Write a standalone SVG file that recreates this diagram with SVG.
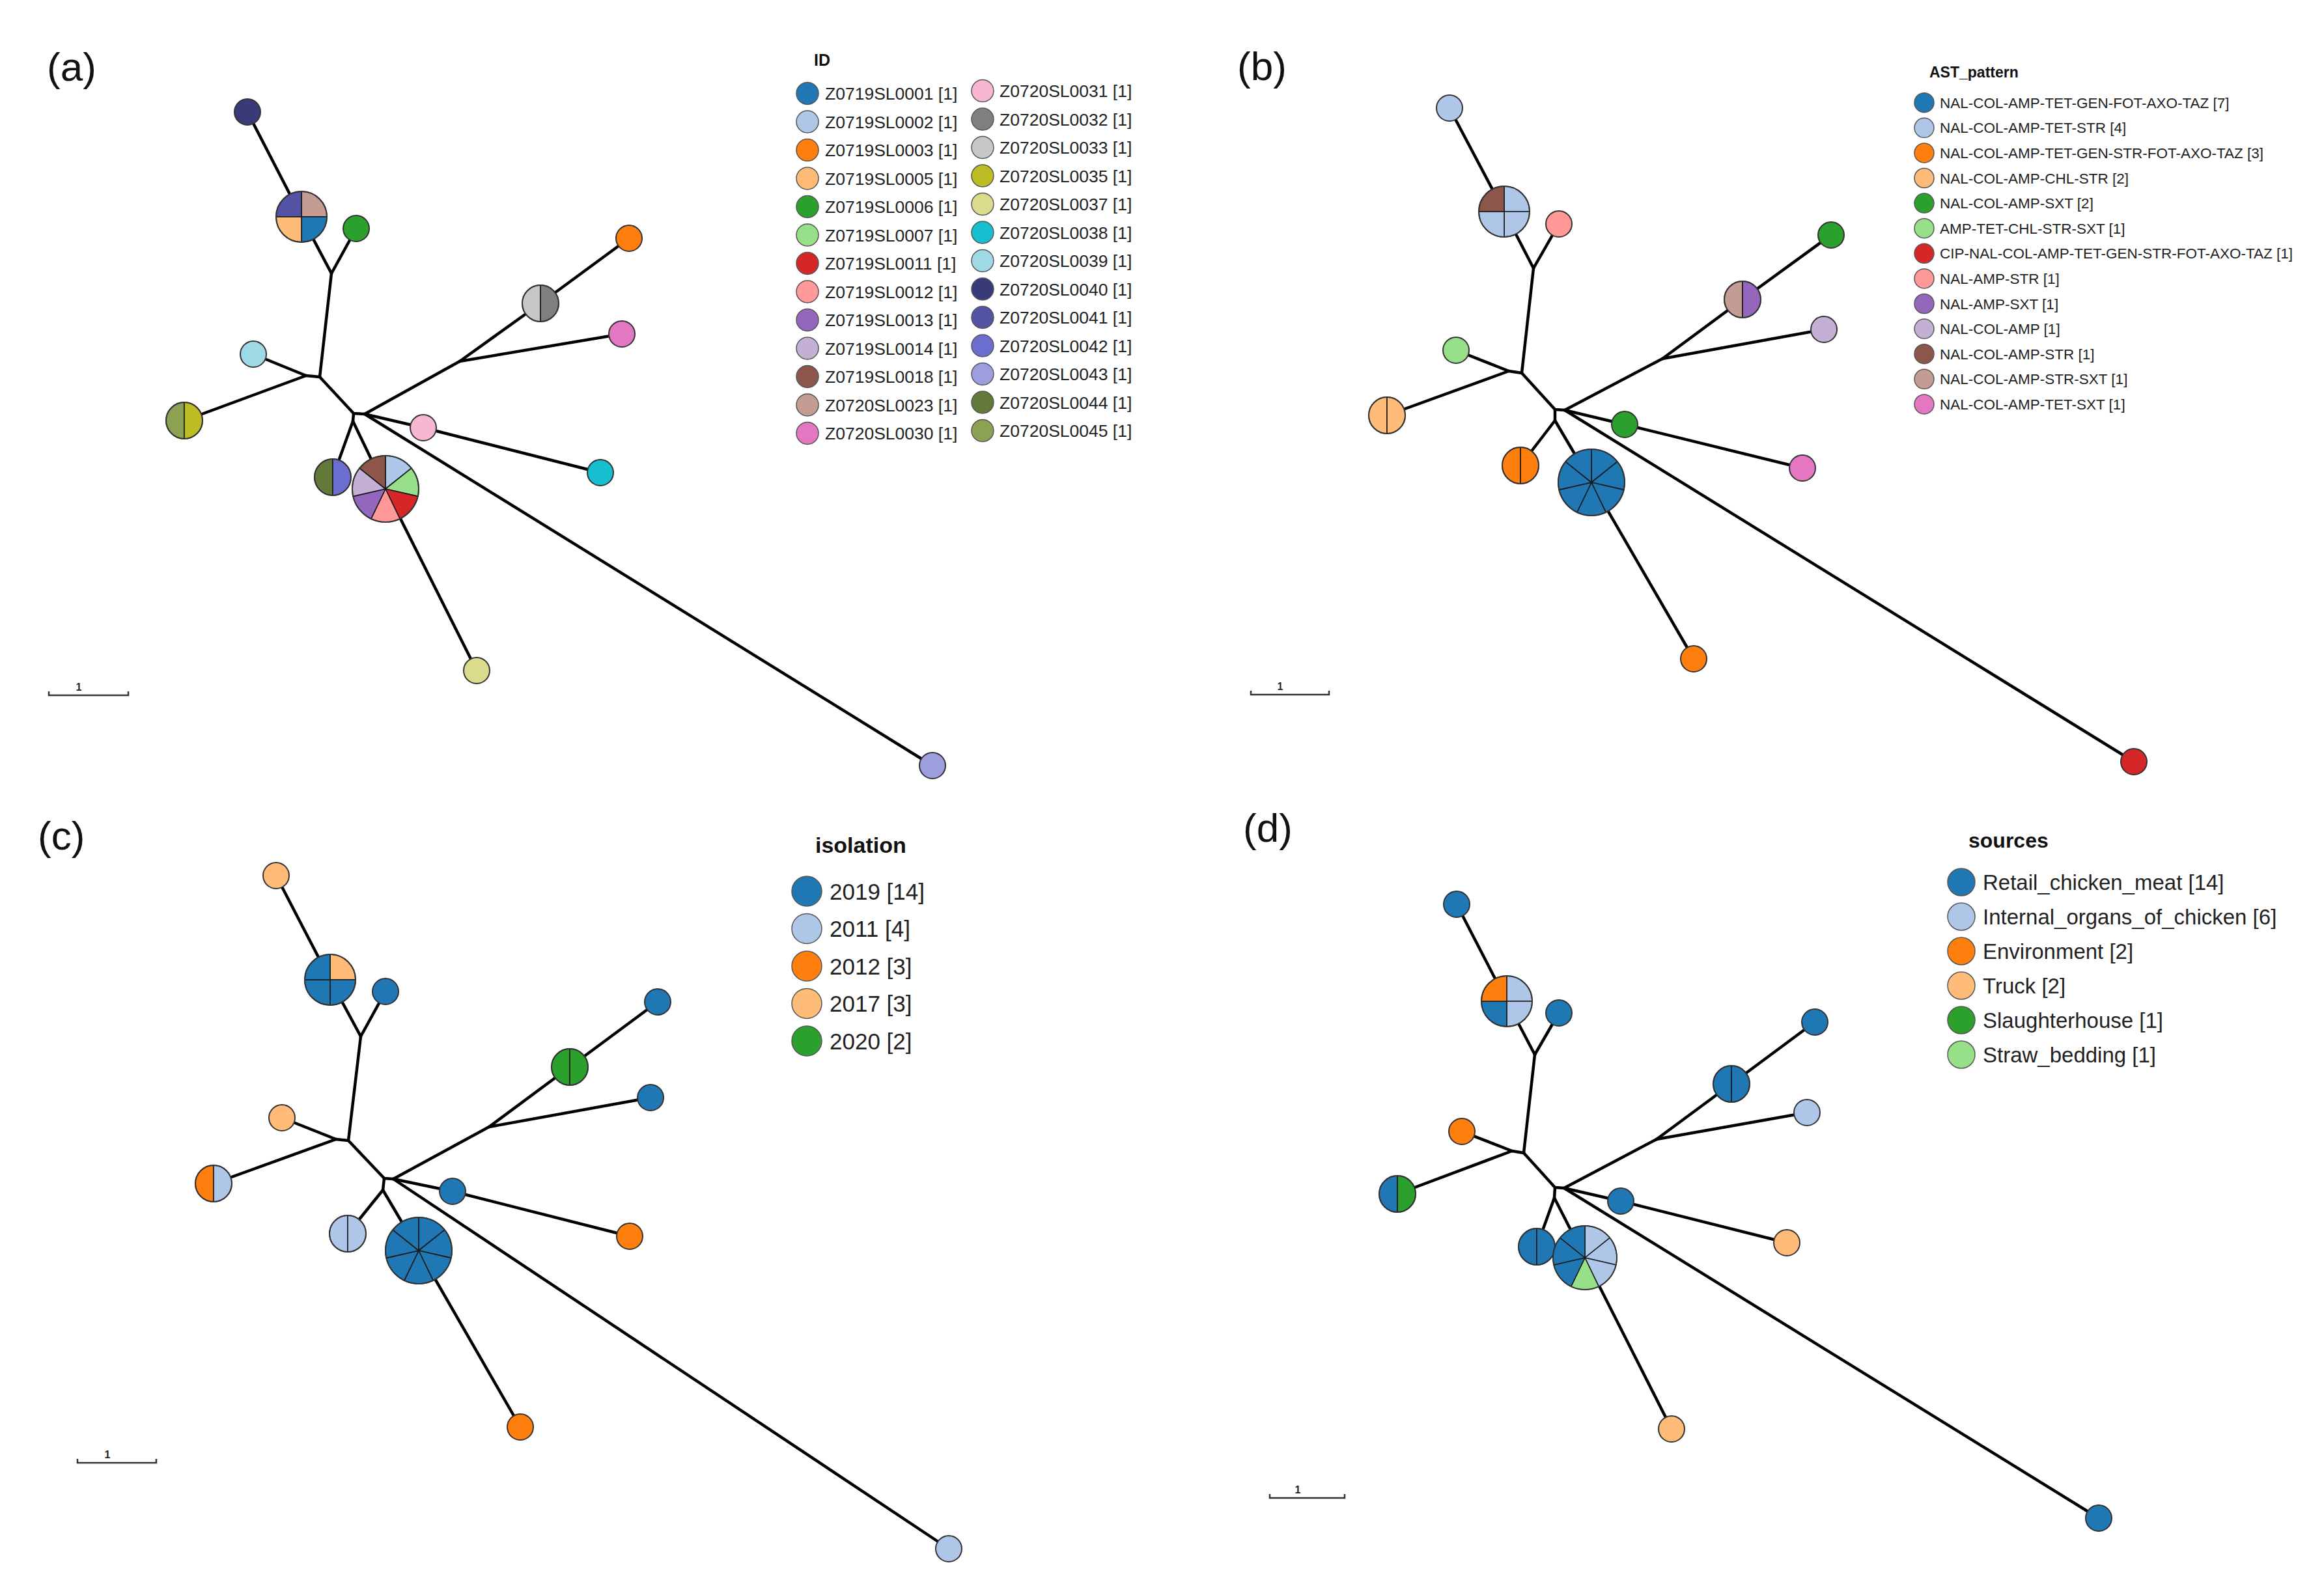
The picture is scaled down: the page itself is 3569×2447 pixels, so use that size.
<svg xmlns="http://www.w3.org/2000/svg" xmlns:xlink="http://www.w3.org/1999/xlink" width="3569" height="2447" viewBox="0 0 3569 2447">
<style>
.e{stroke:#000;stroke-width:4.5;fill:none;stroke-linecap:round;stroke-linejoin:round}
.n{stroke:#333;stroke-width:2}
.ol{fill:none;stroke:#333;stroke-width:2}
.s{stroke:#1a1a1a;stroke-width:1.6;stroke-linejoin:round}
.lc{stroke:#555;stroke-width:1.5}
.t{font-family:"Liberation Sans",Arial,sans-serif;fill:#222}
.pl{font-family:"Liberation Sans",Arial,sans-serif;font-size:62px;fill:#111}
.h{font-family:"Liberation Sans",Arial,sans-serif;font-weight:bold;fill:#111}
.sb{fill:none;stroke:#333;stroke-width:2.5}
.sbt{font-family:"Liberation Sans",Arial,sans-serif;font-size:16px;font-weight:bold;fill:#222;text-anchor:middle}
</style>
<defs>
<path id="q0" d="M0,0 L0,-39 A39,39 0 0 1 39,0 Z"/>
<path id="q1" d="M0,0 L39,0 A39,39 0 0 1 0,39 Z"/>
<path id="q2" d="M0,0 L0,39 A39,39 0 0 1 -39,0 Z"/>
<path id="q3" d="M0,0 L-39,0 A39,39 0 0 1 0,-39 Z"/>
<path id="hl" d="M0,-28 A28,28 0 0 0 0,28 Z"/>
<path id="hr" d="M0,-28 A28,28 0 0 1 0,28 Z"/>
<path id="s0" d="M0,0 L0,-51 A51,51 0 0 1 39.87,-31.8 Z"/>
<path id="s1" d="M0,0 L39.87,-31.8 A51,51 0 0 1 49.72,11.35 Z"/>
<path id="s2" d="M0,0 L49.72,11.35 A51,51 0 0 1 22.13,45.95 Z"/>
<path id="s3" d="M0,0 L22.13,45.95 A51,51 0 0 1 -22.13,45.95 Z"/>
<path id="s4" d="M0,0 L-22.13,45.95 A51,51 0 0 1 -49.72,11.35 Z"/>
<path id="s5" d="M0,0 L-49.72,11.35 A51,51 0 0 1 -39.87,-31.8 Z"/>
<path id="s6" d="M0,0 L-39.87,-31.8 A51,51 0 0 1 0,-51 Z"/>
</defs>
<rect width="3569" height="2447" fill="#fff"/>

<!-- Panel labels -->
<text class="pl" x="72" y="124">(a)</text>
<text class="pl" x="1900" y="123">(b)</text>
<text class="pl" x="58" y="1305">(c)</text>
<text class="pl" x="1909" y="1293">(d)</text>

<!-- Scale bars -->
<g id="scalebars">
<path class="sb" d="M75,1062 V1068 H197 V1062"/><text class="sbt" x="121" y="1061">1</text>
<path class="sb" d="M1921,1061 V1067 H2041 V1061"/><text class="sbt" x="1966" y="1060">1</text>
<path class="sb" d="M119,2241 V2247 H240 V2241"/><text class="sbt" x="165" y="2240">1</text>
<path class="sb" d="M1950,2295 V2301 H2065 V2295"/><text class="sbt" x="1993" y="2294">1</text>
</g>

<!-- Connectors -->
<g id="connectors" class="e">
<path d="M380,172 L463,333 L509,420"/>
<path d="M547,351 L509,420"/>
<path d="M509,420 L491,579 L470,577"/>
<path d="M470,577 L389,544"/>
<path d="M470,577 L283,646"/>
<path d="M491,579 L543,635 L560,636"/>
<path d="M560,636 L706,555"/>
<path d="M706,555 L830,466 L966,366"/>
<path d="M706,555 L955,513"/>
<path d="M560,636 L650,657 L922,726"/>
<path d="M560,636 L1432,1176"/>
<path d="M543,635 L542,647"/>
<path d="M542,647 L511,733"/>
<path d="M542,647 L592,751 L732,1030"/>

<path d="M2226,166 L2310,325 L2355,412"/>
<path d="M2394,344 L2355,412"/>
<path d="M2355,412 L2337,573 L2317,570"/>
<path d="M2317,570 L2236,538"/>
<path d="M2317,570 L2130,638"/>
<path d="M2337,573 L2388,629 L2403,630"/>
<path d="M2403,630 L2553,551"/>
<path d="M2553,551 L2676,460 L2812,361"/>
<path d="M2553,551 L2801,506"/>
<path d="M2403,630 L2495,652 L2768,719"/>
<path d="M2403,630 L3277,1170"/>
<path d="M2388,629 L2388,646"/>
<path d="M2388,646 L2335,715"/>
<path d="M2388,646 L2444,741 L2601,1012"/>

<path d="M424,1345 L507,1505 L554,1592"/>
<path d="M592,1523 L554,1592"/>
<path d="M554,1592 L535,1752 L516,1750"/>
<path d="M516,1750 L433,1717"/>
<path d="M516,1750 L328,1818"/>
<path d="M535,1752 L590,1810 L604,1811"/>
<path d="M604,1811 L751,1731"/>
<path d="M751,1731 L875,1639 L1010,1539"/>
<path d="M751,1731 L999,1686"/>
<path d="M604,1811 L695,1830 L967,1899"/>
<path d="M604,1811 L1457,2379"/>
<path d="M590,1810 L588,1828"/>
<path d="M588,1828 L534,1895"/>
<path d="M588,1828 L643,1921 L799,2192"/>

<path d="M2237,1389 L2314,1538 L2357,1620"/>
<path d="M2394,1556 L2357,1620"/>
<path d="M2357,1620 L2340,1771 L2322,1768"/>
<path d="M2322,1768 L2245,1738"/>
<path d="M2322,1768 L2146,1834"/>
<path d="M2340,1771 L2388,1824 L2402,1825"/>
<path d="M2402,1825 L2544,1750"/>
<path d="M2544,1750 L2659,1665 L2787,1570"/>
<path d="M2544,1750 L2775,1709"/>
<path d="M2402,1825 L2489,1845 L2744,1909"/>
<path d="M2402,1825 L3223,2332"/>
<path d="M2388,1824 L2387,1840"/>
<path d="M2387,1840 L2360,1915"/>
<path d="M2387,1840 L2434,1932 L2567,2195"/>
</g>

<!-- Panel (a) nodes -->
<g id="panel-a-nodes">
<g id="a-n40" transform="translate(380,172)"><circle class="n" r="20" fill="#393b79"/></g>
<g id="a-p4" transform="translate(463,333)"><use href="#q0" class="s" fill="#c49c94"/><use href="#q1" class="s" fill="#1f77b4"/><use href="#q2" class="s" fill="#ffbb78"/><use href="#q3" class="s" fill="#5254a3"/><circle class="ol" r="39"/></g>
<g id="a-n06" transform="translate(547,351)"><circle class="n" r="20" fill="#2ca02c"/></g>
<g id="a-n39" transform="translate(389,544)"><circle class="n" r="20" fill="#9edae5"/></g>
<g id="a-h45" transform="translate(283,646)"><use href="#hl" class="s" fill="#8ca252"/><use href="#hr" class="s" fill="#bcbd22"/><circle class="ol" r="28"/></g>
<g id="a-h33" transform="translate(830,466)"><use href="#hl" class="s" fill="#c7c7c7"/><use href="#hr" class="s" fill="#7f7f7f"/><circle class="ol" r="28"/></g>
<g id="a-n03" transform="translate(966,366)"><circle class="n" r="20" fill="#ff7f0e"/></g>
<g id="a-n30" transform="translate(955,513)"><circle class="n" r="20" fill="#e377c2"/></g>
<g id="a-n31" transform="translate(650,657)"><circle class="n" r="20" fill="#f7b6d2"/></g>
<g id="a-n38" transform="translate(922,726)"><circle class="n" r="20" fill="#17becf"/></g>
<g id="a-h44" transform="translate(511,733)"><use href="#hl" class="s" fill="#637939"/><use href="#hr" class="s" fill="#6b6ecf"/><circle class="ol" r="28"/></g>
<g id="a-p7" transform="translate(592,751)"><use href="#s0" class="s" fill="#aec7e8"/><use href="#s1" class="s" fill="#98df8a"/><use href="#s2" class="s" fill="#d62728"/><use href="#s3" class="s" fill="#ff9896"/><use href="#s4" class="s" fill="#9467bd"/><use href="#s5" class="s" fill="#c5b0d5"/><use href="#s6" class="s" fill="#8c564b"/><circle class="ol" r="51"/></g>
<g id="a-n37" transform="translate(732,1030)"><circle class="n" r="20" fill="#dbdb8d"/></g>
<g id="a-n43" transform="translate(1432,1176)"><circle class="n" r="20" fill="#9c9ede"/></g>
</g>

<!-- Panel (b) nodes -->
<g id="panel-b-nodes">
<g id="b-n1" transform="translate(2226,166)"><circle class="n" r="20" fill="#aec7e8"/></g>
<g id="b-p4" transform="translate(2310,325)"><use href="#q0" class="s" fill="#aec7e8"/><use href="#q1" class="s" fill="#aec7e8"/><use href="#q2" class="s" fill="#aec7e8"/><use href="#q3" class="s" fill="#8c564b"/><circle class="ol" r="39"/></g>
<g id="b-n2" transform="translate(2394,344)"><circle class="n" r="20" fill="#ff9896"/></g>
<g id="b-n3" transform="translate(2236,538)"><circle class="n" r="20" fill="#98df8a"/></g>
<g id="b-h1" transform="translate(2130,638)"><use href="#hl" class="s" fill="#ffbb78"/><use href="#hr" class="s" fill="#ffbb78"/><circle class="ol" r="28"/></g>
<g id="b-h2" transform="translate(2676,460)"><use href="#hl" class="s" fill="#c49c94"/><use href="#hr" class="s" fill="#9467bd"/><circle class="ol" r="28"/></g>
<g id="b-n4" transform="translate(2812,361)"><circle class="n" r="20" fill="#2ca02c"/></g>
<g id="b-n5" transform="translate(2801,506)"><circle class="n" r="20" fill="#c5b0d5"/></g>
<g id="b-n6" transform="translate(2495,652)"><circle class="n" r="20" fill="#2ca02c"/></g>
<g id="b-n7" transform="translate(2768,719)"><circle class="n" r="20" fill="#e377c2"/></g>
<g id="b-h3" transform="translate(2335,715)"><use href="#hl" class="s" fill="#ff7f0e"/><use href="#hr" class="s" fill="#ff7f0e"/><circle class="ol" r="28"/></g>
<g id="b-p7" transform="translate(2444,741)"><use href="#s0" class="s" fill="#1f77b4"/><use href="#s1" class="s" fill="#1f77b4"/><use href="#s2" class="s" fill="#1f77b4"/><use href="#s3" class="s" fill="#1f77b4"/><use href="#s4" class="s" fill="#1f77b4"/><use href="#s5" class="s" fill="#1f77b4"/><use href="#s6" class="s" fill="#1f77b4"/><circle class="ol" r="51"/></g>
<g id="b-n8" transform="translate(2601,1012)"><circle class="n" r="20" fill="#ff7f0e"/></g>
<g id="b-n9" transform="translate(3277,1170)"><circle class="n" r="20" fill="#d62728"/></g>
</g>

<!-- Panel (c) nodes -->
<g id="panel-c-nodes">
<g id="c-n1" transform="translate(424,1345)"><circle class="n" r="20" fill="#ffbb78"/></g>
<g id="c-p4" transform="translate(507,1505)"><use href="#q0" class="s" fill="#ffbb78"/><use href="#q1" class="s" fill="#1f77b4"/><use href="#q2" class="s" fill="#1f77b4"/><use href="#q3" class="s" fill="#1f77b4"/><circle class="ol" r="39"/></g>
<g id="c-n2" transform="translate(592,1523)"><circle class="n" r="20" fill="#1f77b4"/></g>
<g id="c-n3" transform="translate(433,1717)"><circle class="n" r="20" fill="#ffbb78"/></g>
<g id="c-h1" transform="translate(328,1818)"><use href="#hl" class="s" fill="#ff7f0e"/><use href="#hr" class="s" fill="#aec7e8"/><circle class="ol" r="28"/></g>
<g id="c-h2" transform="translate(875,1639)"><use href="#hl" class="s" fill="#2ca02c"/><use href="#hr" class="s" fill="#2ca02c"/><circle class="ol" r="28"/></g>
<g id="c-n4" transform="translate(1010,1539)"><circle class="n" r="20" fill="#1f77b4"/></g>
<g id="c-n5" transform="translate(999,1686)"><circle class="n" r="20" fill="#1f77b4"/></g>
<g id="c-n6" transform="translate(695,1830)"><circle class="n" r="20" fill="#1f77b4"/></g>
<g id="c-n7" transform="translate(967,1899)"><circle class="n" r="20" fill="#ff7f0e"/></g>
<g id="c-h3" transform="translate(534,1895)"><use href="#hl" class="s" fill="#aec7e8"/><use href="#hr" class="s" fill="#aec7e8"/><circle class="ol" r="28"/></g>
<g id="c-p7" transform="translate(643,1921)"><use href="#s0" class="s" fill="#1f77b4"/><use href="#s1" class="s" fill="#1f77b4"/><use href="#s2" class="s" fill="#1f77b4"/><use href="#s3" class="s" fill="#1f77b4"/><use href="#s4" class="s" fill="#1f77b4"/><use href="#s5" class="s" fill="#1f77b4"/><use href="#s6" class="s" fill="#1f77b4"/><circle class="ol" r="51"/></g>
<g id="c-n8" transform="translate(799,2192)"><circle class="n" r="20" fill="#ff7f0e"/></g>
<g id="c-n9" transform="translate(1457,2379)"><circle class="n" r="20" fill="#aec7e8"/></g>
</g>

<!-- Panel (d) nodes -->
<g id="panel-d-nodes">
<g id="d-n1" transform="translate(2237,1389)"><circle class="n" r="20" fill="#1f77b4"/></g>
<g id="d-p4" transform="translate(2314,1538)"><use href="#q0" class="s" fill="#aec7e8"/><use href="#q1" class="s" fill="#aec7e8"/><use href="#q2" class="s" fill="#1f77b4"/><use href="#q3" class="s" fill="#ff7f0e"/><circle class="ol" r="39"/></g>
<g id="d-n2" transform="translate(2394,1556)"><circle class="n" r="20" fill="#1f77b4"/></g>
<g id="d-n3" transform="translate(2245,1738)"><circle class="n" r="20" fill="#ff7f0e"/></g>
<g id="d-h1" transform="translate(2146,1834)"><use href="#hl" class="s" fill="#1f77b4"/><use href="#hr" class="s" fill="#2ca02c"/><circle class="ol" r="28"/></g>
<g id="d-h2" transform="translate(2659,1665)"><use href="#hl" class="s" fill="#1f77b4"/><use href="#hr" class="s" fill="#1f77b4"/><circle class="ol" r="28"/></g>
<g id="d-n4" transform="translate(2787,1570)"><circle class="n" r="20" fill="#1f77b4"/></g>
<g id="d-n5" transform="translate(2775,1709)"><circle class="n" r="20" fill="#aec7e8"/></g>
<g id="d-n6" transform="translate(2489,1845)"><circle class="n" r="20" fill="#1f77b4"/></g>
<g id="d-n7" transform="translate(2744,1909)"><circle class="n" r="20" fill="#ffbb78"/></g>
<g id="d-h3" transform="translate(2360,1915)"><use href="#hl" class="s" fill="#1f77b4"/><use href="#hr" class="s" fill="#1f77b4"/><circle class="ol" r="28"/></g>
<g id="d-p7" transform="translate(2434,1932) scale(0.96)"><use href="#s0" class="s" fill="#aec7e8"/><use href="#s1" class="s" fill="#aec7e8"/><use href="#s2" class="s" fill="#aec7e8"/><use href="#s3" class="s" fill="#98df8a"/><use href="#s4" class="s" fill="#1f77b4"/><use href="#s5" class="s" fill="#1f77b4"/><use href="#s6" class="s" fill="#1f77b4"/><circle class="ol" r="51"/></g>
<g id="d-n8" transform="translate(2567,2195)"><circle class="n" r="20" fill="#ffbb78"/></g>
<g id="d-n9" transform="translate(3223,2332)"><circle class="n" r="20" fill="#1f77b4"/></g>
</g>

<!-- Legend (a) -->
<g id="legend-a">
<text class="h" x="1250" y="101" font-size="25">ID</text>
<g class="t" font-size="26.5">
<circle class="lc" cx="1240" cy="143.5" r="17" fill="#1f77b4"/><text x="1267" y="153">Z0719SL0001 [1]</text>
<circle class="lc" cx="1240" cy="187" r="17" fill="#aec7e8"/><text x="1267" y="196.5">Z0719SL0002 [1]</text>
<circle class="lc" cx="1240" cy="230.5" r="17" fill="#ff7f0e"/><text x="1267" y="240">Z0719SL0003 [1]</text>
<circle class="lc" cx="1240" cy="274" r="17" fill="#ffbb78"/><text x="1267" y="283.5">Z0719SL0005 [1]</text>
<circle class="lc" cx="1240" cy="317.5" r="17" fill="#2ca02c"/><text x="1267" y="327">Z0719SL0006 [1]</text>
<circle class="lc" cx="1240" cy="361" r="17" fill="#98df8a"/><text x="1267" y="370.5">Z0719SL0007 [1]</text>
<circle class="lc" cx="1240" cy="404.5" r="17" fill="#d62728"/><text x="1267" y="414">Z0719SL0011 [1]</text>
<circle class="lc" cx="1240" cy="448" r="17" fill="#ff9896"/><text x="1267" y="457.5">Z0719SL0012 [1]</text>
<circle class="lc" cx="1240" cy="491.5" r="17" fill="#9467bd"/><text x="1267" y="501">Z0719SL0013 [1]</text>
<circle class="lc" cx="1240" cy="535" r="17" fill="#c5b0d5"/><text x="1267" y="544.5">Z0719SL0014 [1]</text>
<circle class="lc" cx="1240" cy="578.5" r="17" fill="#8c564b"/><text x="1267" y="588">Z0719SL0018 [1]</text>
<circle class="lc" cx="1240" cy="622" r="17" fill="#c49c94"/><text x="1267" y="631.5">Z0720SL0023 [1]</text>
<circle class="lc" cx="1240" cy="665.5" r="17" fill="#e377c2"/><text x="1267" y="675">Z0720SL0030 [1]</text>
<circle class="lc" cx="1509" cy="139.5" r="17" fill="#f7b6d2"/><text x="1535" y="149">Z0720SL0031 [1]</text>
<circle class="lc" cx="1509" cy="183" r="17" fill="#7f7f7f"/><text x="1535" y="192.5">Z0720SL0032 [1]</text>
<circle class="lc" cx="1509" cy="226.5" r="17" fill="#c7c7c7"/><text x="1535" y="236">Z0720SL0033 [1]</text>
<circle class="lc" cx="1509" cy="270" r="17" fill="#bcbd22"/><text x="1535" y="279.5">Z0720SL0035 [1]</text>
<circle class="lc" cx="1509" cy="313.5" r="17" fill="#dbdb8d"/><text x="1535" y="323">Z0720SL0037 [1]</text>
<circle class="lc" cx="1509" cy="357" r="17" fill="#17becf"/><text x="1535" y="366.5">Z0720SL0038 [1]</text>
<circle class="lc" cx="1509" cy="400.5" r="17" fill="#9edae5"/><text x="1535" y="410">Z0720SL0039 [1]</text>
<circle class="lc" cx="1509" cy="444" r="17" fill="#393b79"/><text x="1535" y="453.5">Z0720SL0040 [1]</text>
<circle class="lc" cx="1509" cy="487.5" r="17" fill="#5254a3"/><text x="1535" y="497">Z0720SL0041 [1]</text>
<circle class="lc" cx="1509" cy="531" r="17" fill="#6b6ecf"/><text x="1535" y="540.5">Z0720SL0042 [1]</text>
<circle class="lc" cx="1509" cy="574.5" r="17" fill="#9c9ede"/><text x="1535" y="584">Z0720SL0043 [1]</text>
<circle class="lc" cx="1509" cy="618" r="17" fill="#637939"/><text x="1535" y="627.5">Z0720SL0044 [1]</text>
<circle class="lc" cx="1509" cy="661.5" r="17" fill="#8ca252"/><text x="1535" y="671">Z0720SL0045 [1]</text>
</g>
</g>

<!-- Legend (b) -->
<g id="legend-b">
<text class="h" x="2963" y="119" font-size="23">AST_pattern</text>
<g class="t" font-size="22.5">
<circle class="lc" cx="2955" cy="157.7" r="15" fill="#1f77b4"/><text x="2979" y="165.7">NAL-COL-AMP-TET-GEN-FOT-AXO-TAZ [7]</text>
<circle class="lc" cx="2955" cy="196.3" r="15" fill="#aec7e8"/><text x="2979" y="204.3">NAL-COL-AMP-TET-STR [4]</text>
<circle class="lc" cx="2955" cy="234.9" r="15" fill="#ff7f0e"/><text x="2979" y="242.9">NAL-COL-AMP-TET-GEN-STR-FOT-AXO-TAZ [3]</text>
<circle class="lc" cx="2955" cy="273.5" r="15" fill="#ffbb78"/><text x="2979" y="281.5">NAL-COL-AMP-CHL-STR [2]</text>
<circle class="lc" cx="2955" cy="312.1" r="15" fill="#2ca02c"/><text x="2979" y="320.1">NAL-COL-AMP-SXT [2]</text>
<circle class="lc" cx="2955" cy="350.7" r="15" fill="#98df8a"/><text x="2979" y="358.7">AMP-TET-CHL-STR-SXT [1]</text>
<circle class="lc" cx="2955" cy="389.3" r="15" fill="#d62728"/><text x="2979" y="397.3">CIP-NAL-COL-AMP-TET-GEN-STR-FOT-AXO-TAZ [1]</text>
<circle class="lc" cx="2955" cy="427.9" r="15" fill="#ff9896"/><text x="2979" y="435.9">NAL-AMP-STR [1]</text>
<circle class="lc" cx="2955" cy="466.5" r="15" fill="#9467bd"/><text x="2979" y="474.5">NAL-AMP-SXT [1]</text>
<circle class="lc" cx="2955" cy="505.1" r="15" fill="#c5b0d5"/><text x="2979" y="513.1">NAL-COL-AMP [1]</text>
<circle class="lc" cx="2955" cy="543.7" r="15" fill="#8c564b"/><text x="2979" y="551.7">NAL-COL-AMP-STR [1]</text>
<circle class="lc" cx="2955" cy="582.3" r="15" fill="#c49c94"/><text x="2979" y="590.3">NAL-COL-AMP-STR-SXT [1]</text>
<circle class="lc" cx="2955" cy="620.9" r="15" fill="#e377c2"/><text x="2979" y="628.9">NAL-COL-AMP-TET-SXT [1]</text>
</g>
</g>

<!-- Legend (c) -->
<g id="legend-c">
<text class="h" x="1252" y="1310" font-size="34">isolation</text>
<g class="t" font-size="35">
<circle class="lc" cx="1239" cy="1369" r="23" fill="#1f77b4"/><text x="1274" y="1381.5">2019 [14]</text>
<circle class="lc" cx="1239" cy="1426.5" r="23" fill="#aec7e8"/><text x="1274" y="1439">2011 [4]</text>
<circle class="lc" cx="1239" cy="1484" r="23" fill="#ff7f0e"/><text x="1274" y="1496.5">2012 [3]</text>
<circle class="lc" cx="1239" cy="1541.5" r="23" fill="#ffbb78"/><text x="1274" y="1554">2017 [3]</text>
<circle class="lc" cx="1239" cy="1599" r="23" fill="#2ca02c"/><text x="1274" y="1611.5">2020 [2]</text>
</g>
</g>

<!-- Legend (d) -->
<g id="legend-d">
<text class="h" x="3023" y="1302" font-size="32">sources</text>
<g class="t" font-size="33">
<circle class="lc" cx="3012" cy="1355" r="21" fill="#1f77b4"/><text x="3045" y="1367">Retail_chicken_meat [14]</text>
<circle class="lc" cx="3012" cy="1408" r="21" fill="#aec7e8"/><text x="3045" y="1420">Internal_organs_of_chicken [6]</text>
<circle class="lc" cx="3012" cy="1461" r="21" fill="#ff7f0e"/><text x="3045" y="1473">Environment [2]</text>
<circle class="lc" cx="3012" cy="1514" r="21" fill="#ffbb78"/><text x="3045" y="1526">Truck [2]</text>
<circle class="lc" cx="3012" cy="1567" r="21" fill="#2ca02c"/><text x="3045" y="1579">Slaughterhouse [1]</text>
<circle class="lc" cx="3012" cy="1620" r="21" fill="#98df8a"/><text x="3045" y="1632">Straw_bedding [1]</text>
</g>
</g>
</svg>
